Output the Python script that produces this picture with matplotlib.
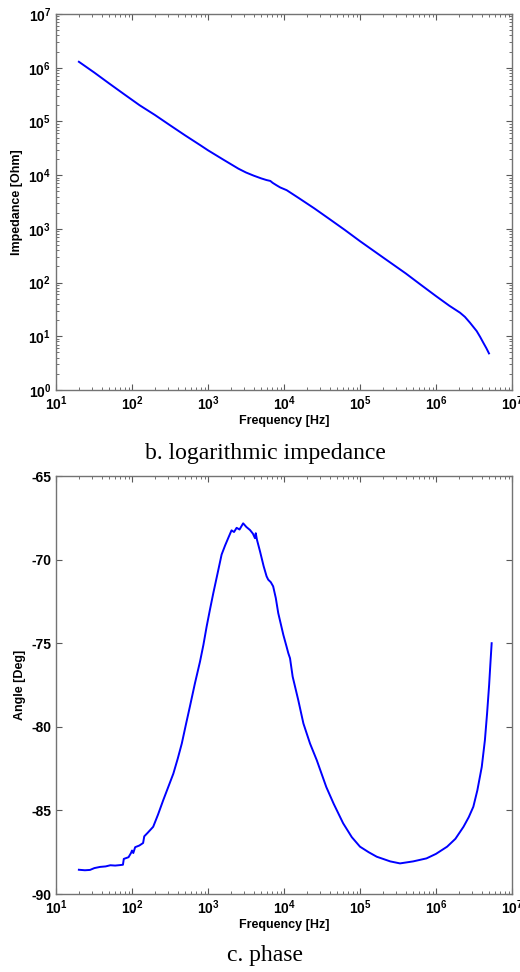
import math
import matplotlib
matplotlib.use("Agg")
import matplotlib.pyplot as plt
from matplotlib.ticker import FuncFormatter, LogLocator, FixedLocator, NullLocator

plt.rcParams['font.family'] = ['Liberation Sans', 'DejaVu Sans']
plt.rcParams['mathtext.fontset'] = 'custom'
plt.rcParams['mathtext.rm'] = 'Liberation Sans:bold'
plt.rcParams['mathtext.bf'] = 'Liberation Sans:bold'

# Impedance magnitude data (Hz, Ohm)
imp_freq = [20, 32, 50, 79, 126, 200, 316, 500, 794, 1000, 1585, 2512, 3162, 3981,
            5012, 5888, 6607, 7079, 7943, 8913, 10840, 15850, 25120, 40270, 63100,
            1.0e5, 2.0e5, 4.0e5, 6.31e5, 1.0e6, 1.5e6, 2.07e6, 2.4e6, 2.8e6,
            3.43e6, 3.8e6, 4.19e6, 4.6e6, 4.98e6]
imp_ohm = [1.29e6, 8.1e5, 5.1e5, 3.2e5, 2.0e5, 1.32e5, 8.5e4, 5.5e4, 3.6e4, 2.9e4,
           1.95e4, 1.32e4, 1.12e4, 9.8e3, 8.7e3, 8.1e3, 7.8e3, 7.2e3, 6.5e3, 5.9e3,
           5.25e3, 3.7e3, 2.4e3, 1.5e3, 955, 590, 295, 148, 91, 56, 37, 27.5, 23,
           17.9, 12.5, 9.8, 7.6, 6.0, 4.8]

# Phase data (Hz, degrees)
ph_freq = [20, 24, 28, 32, 38, 45, 52, 60, 70, 76, 78, 90, 97, 100, 104, 110, 125,
           140, 145, 160, 190, 220, 258, 300, 350, 400, 452, 510, 577, 673, 785, 870,
           960, 1060, 1175, 1340, 1510, 1680, 1850, 2040, 2200, 2380, 2600, 2900,
           3200, 3570, 3900, 4150, 4250, 4400, 4830, 5400, 5900, 6200, 6700, 7200,
           7800, 8400, 9800, 10800, 11400, 12000, 13000, 15400, 18000, 22000, 27000,
           36000, 45000, 60000, 78000, 100000, 130000, 166000, 250000, 336000,
           500000, 750000, 1.0e6, 1.4e6, 1.8e6, 2.3e6, 2.7e6, 3.1e6, 3.5e6, 4.0e6,
           4.4e6, 4.7e6, 5.0e6, 5.2e6, 5.4e6]
ph_deg = [-88.55, -88.58, -88.56, -88.45, -88.38, -88.35, -88.28, -88.30, -88.27, -88.25,
          -87.90, -87.80, -87.55, -87.40, -87.55, -87.20, -87.10, -86.95, -86.55, -86.35,
          -85.98, -85.25, -84.38, -83.60, -82.80, -81.90, -81.00, -79.90, -78.80, -77.40,
          -76.10, -75.10, -74.00, -73.00, -72.00, -70.80, -69.70, -69.15, -68.70, -68.25,
          -68.35, -68.10, -68.20, -67.83, -68.05, -68.23, -68.45, -68.72, -68.42, -68.80,
          -69.50, -70.40, -71.00, -71.20, -71.35, -71.60, -72.30, -73.20, -74.50, -75.20,
          -75.60, -75.90, -77.00, -78.40, -79.80, -81.00, -82.00, -83.60, -84.60, -85.77,
          -86.60, -87.17, -87.50, -87.77, -88.05, -88.17, -88.05, -87.87, -87.60, -87.17,
          -86.70, -85.98, -85.40, -84.78, -83.80, -82.40, -80.80, -79.20, -77.50, -76.20,
          -75.00]

fig = plt.figure(figsize=(5.2, 9.72), dpi=100)

ax1 = fig.add_axes([56/520, 1-390/972, (512-56)/520, (390-14)/972])
ax2 = fig.add_axes([56/520, 1-894/972, (512-56)/520, (894-476)/972])

line_c = '#0000ff'
ax1.plot(imp_freq, imp_ohm, color=line_c, lw=1.4)
ax2.plot(ph_freq, ph_deg, color=line_c, lw=1.4)

def pow_fmt(v, pos):
    e = int(round(math.log10(v)))
    return r'$\mathbf{10^{%d}}$' % e

for ax in (ax1, ax2):
    ax.set_xscale('log')
    ax.set_xlim(10, 1e7)
    ax.xaxis.set_major_locator(LogLocator(base=10, numticks=10))
    ax.xaxis.set_minor_locator(LogLocator(base=10, subs=range(2, 10), numticks=20))
    ax.xaxis.set_major_formatter(FuncFormatter(pow_fmt))
    ax.tick_params(which='both', direction='in', top=True, right=True,
                   colors='0.35', labelcolor='black', labelsize=10)
    ax.tick_params(which='major', length=4, width=0.8)
    ax.tick_params(which='minor', length=2, width=0.6)
    for s in ax.spines.values():
        s.set_color('0.45')
        s.set_linewidth(1.0)
    ax.set_xlabel('Frequency [Hz]', fontsize=9, fontweight='bold', labelpad=1)

ax1.set_yscale('log')
ax1.set_ylim(1, 1e7)
ax1.yaxis.set_major_locator(LogLocator(base=10, numticks=10))
ax1.yaxis.set_minor_locator(LogLocator(base=10, subs=range(2, 10), numticks=20))
ax1.yaxis.set_major_formatter(FuncFormatter(pow_fmt))
ax1.set_ylabel('Impedance [Ohm]', fontsize=9, fontweight='bold', labelpad=4)

ax2.set_ylim(-90, -65)
ax2.yaxis.set_major_locator(FixedLocator([-90, -85, -80, -75, -70, -65]))
ax2.yaxis.set_minor_locator(NullLocator())
ax2.yaxis.set_major_formatter(FuncFormatter(lambda v, p: '%d' % v))
ax2.tick_params(axis='y', labelsize=10)
plt.setp(ax2.get_yticklabels(), fontweight='bold')
ax2.set_ylabel('Angle [Deg]', fontsize=9, fontweight='bold', labelpad=4)

fig.text(265/520, 1-453/972, 'b. logarithmic impedance', ha='center', va='center',
         fontsize=17, family=['Liberation Serif', 'DejaVu Serif'])
fig.text(265/520, 1-955/972, 'c. phase', ha='center', va='center',
         fontsize=17, family=['Liberation Serif', 'DejaVu Serif'])

fig.savefig('out.png', dpi=100)
